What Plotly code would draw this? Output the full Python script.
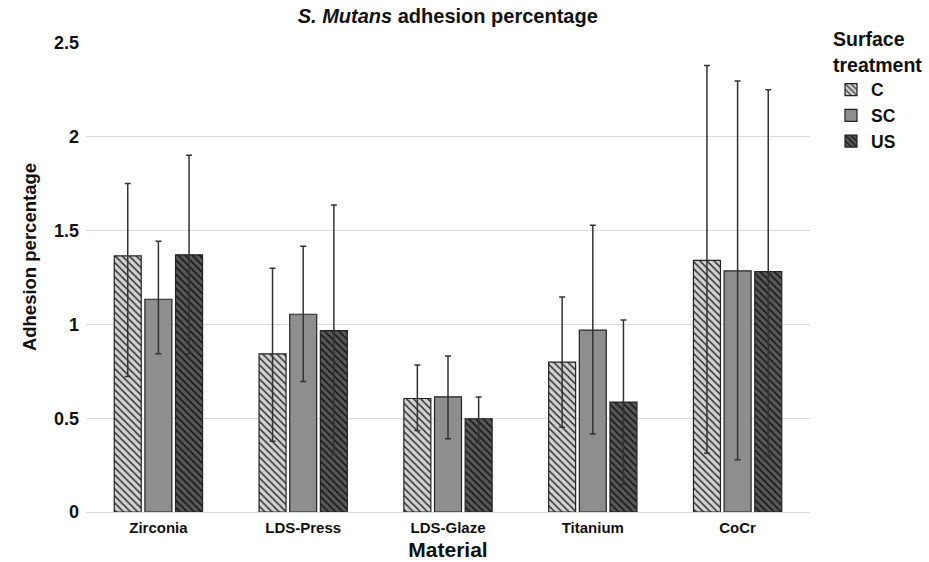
import plotly.graph_objects as go

materials = ["Zirconia", "LDS-Press", "LDS-Glaze", "Titanium", "CoCr"]
treatments = ["C", "SC", "US"]

c_vals = [1.365, 0.843, 0.605, 0.799, 1.341]
c_err_plus = [0.386, 0.456, 0.178, 0.347, 1.039]
c_err_minus = [0.643, 0.466, 0.171, 0.347, 1.028]

sc_vals = [1.134, 1.054, 0.614, 0.969, 1.285]
sc_err_plus = [0.309, 0.362, 0.217, 0.559, 1.012]
sc_err_minus = [0.291, 0.358, 0.223, 0.553, 1.007]

us_vals = [1.371, 0.967, 0.497, 0.586, 1.281]
us_err_plus = [0.531, 0.669, 0.116, 0.438, 0.970]
us_err_minus = [0.528, 0.660, 0.129, 0.440, 0.981]

y_ticks = [0, 0.5, 1, 1.5, 2, 2.5]
y_tick_labels = ["0", "0.5", "1", "1.5", "2", "2.5"]

series = [
    ("C", c_vals, c_err_plus, c_err_minus, "#d2d2d2", "\\", "#333333"),
    ("SC", sc_vals, sc_err_plus, sc_err_minus, "#8e8e8e", "", "#333333"),
    ("US", us_vals, us_err_plus, us_err_minus, "#585858", "\\", "#151515"),
]

fig = go.Figure()
for name, vals, ep, em, col, shape, fg in series:
    fig.add_trace(go.Bar(
        name="<b>" + name + "</b>",
        x=materials,
        y=vals,
        marker=dict(
            color=col,
            line=dict(color="#222222", width=1.2),
            pattern=dict(shape=shape, fgcolor=fg, bgcolor=col, size=5, solidity=0.3, fillmode="replace"),
        ),
        error_y=dict(type="data", symmetric=False, array=ep, arrayminus=em,
                     color="#333333", thickness=1.5, width=3),
    ))

font_family = "Liberation Sans, Arial, Helvetica, sans-serif"

fig.update_layout(
    width=929, height=562,
    margin=dict(l=86, r=119, t=43, b=50, autoexpand=False),
    paper_bgcolor="white", plot_bgcolor="white",
    barmode="group", bargap=0.365, bargroupgap=0.12,
    font=dict(family=font_family, color="#111111"),
    title=dict(text="<b><i>S. Mutans</i> adhesion percentage</b>", x=0.482, xanchor="center",
               yref="container", y=0.9715, yanchor="middle", font=dict(size=20, color="#111111")),
    showlegend=True,
    legend=dict(
        title=dict(text="<b>Surface<br>treatment</b>", font=dict(size=19.5)),
        font=dict(size=17.5),
        x=1.029, xanchor="left", y=1.047, yanchor="top",
        tracegroupgap=0, itemwidth=30,
    ),
    xaxis=dict(
        title=dict(text="<b>Material</b>", font=dict(size=21), standoff=7),
        tickfont=dict(size=15),
        tickprefix="<b>", ticksuffix="</b>",
        showline=False, ticks="", ticklabelstandoff=5,
        automargin=False,
    ),
    yaxis=dict(
        range=[0, 2.5],
        tickvals=y_ticks,
        ticktext=["<b>" + t + "</b>" for t in y_tick_labels],
        tickfont=dict(size=18),
        showgrid=True, gridcolor="#dcdcdc", gridwidth=1,
        zeroline=True, zerolinecolor="#dcdcdc", zerolinewidth=1,
        ticks="", ticklen=0, ticklabelstandoff=6,
        automargin=False,
    ),
    annotations=[dict(
        text="<b>Adhesion percentage</b>", textangle=-90,
        xref="paper", yref="paper", x=-0.077, y=0.544,
        xanchor="center", yanchor="middle", showarrow=False,
        font=dict(size=18.5, color="#111111"),
    )],
)

fig.write_html("out.html", config={"displayModeBar": False},
               post_script="document.body.style.margin='0';")
